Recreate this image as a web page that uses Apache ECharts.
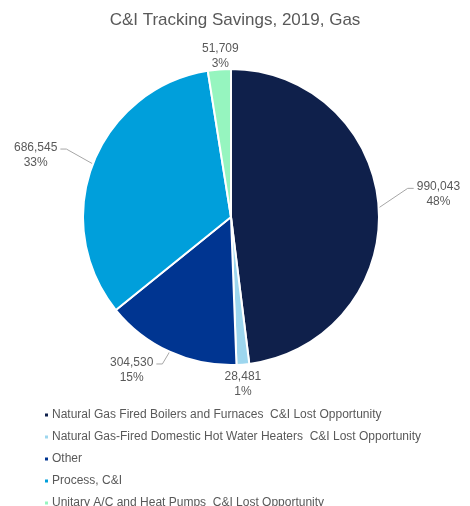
<!DOCTYPE html>
<html><head><meta charset="utf-8">
<script src="https://cdn.jsdelivr.net/npm/echarts@6/dist/echarts.min.js"></script>
<style>html,body{margin:0;padding:0;background:#fff}#c{width:470px;height:506px}</style>
</head><body><div id="c"></div>
<script>
const categories = [
  'Natural Gas Fired Boilers and Furnaces  C&I Lost Opportunity',
  'Natural Gas-Fired Domestic Hot Water Heaters  C&I Lost Opportunity',
  'Other',
  'Process, C&I',
  'Unitary A/C and Heat Pumps  C&I Lost Opportunity'
];
const values = [990043, 28481, 304530, 686545, 51709];
const colors = ['#0F204B', '#9DD6EE', '#003591', '#009FDB', '#96F5BF'];

// label nudges (dx, dy) relative to default outside placement
const labelShift = [[13, -13], [-36, 12], [4, 11], [-11, -6], [37, -5]];
const showLine = [true, false, true, true, false];

const chart = echarts.init(document.getElementById('c'));
chart.setOption({
  animation: false,
  title: {
    text: 'C&I Tracking Savings, 2019, Gas',
    left: 'center', top: 7,
    textStyle: { fontFamily: 'Liberation Sans, Arial', fontSize: 17, fontWeight: 'normal', color: '#595959' }
  },
  legend: {
    orient: 'vertical', left: 38, top: 404, height: 140,
    icon: 'rect', itemWidth: 5, itemHeight: 5, itemGap: 10,
    textStyle: { fontFamily: 'Liberation Sans, Arial', fontSize: 12, color: '#595959', padding: [0, 0, 0, -2] },
    data: categories
  },
  series: [{
    type: 'pie',
    center: [231, 217],
    radius: 148,
    startAngle: 90,
    percentPrecision: 0,
    itemStyle: { borderColor: '#fff', borderWidth: 2 },
    label: {
      show: true,
      position: 'outside',
      fontFamily: 'Liberation Sans, Arial', fontSize: 12, color: '#595959',
      lineHeight: 15,
      formatter: p => '{a|' + p.value.toLocaleString('en-US') + '}\n{a|' + p.percent + '%}',
      rich: { a: { align: 'center', fontFamily: 'Liberation Sans, Arial', fontSize: 12, color: '#595959', lineHeight: 15 } }
    },
    labelLine: { show: true, length: 8, length2: 12, lineStyle: { color: '#a6a6a6', width: 1 } },
    labelLayout: p => {
      const [dx, dy] = labelShift[p.dataIndex];
      const r = p.labelRect;
      const out = { dx, dy };
      const pts = p.labelLinePoints;
      if (pts && pts.length) {
        const start = pts[0];
        const left = r.x + dx, right = r.x + r.width + dx;
        const ay = r.y + dy + r.height * 0.3;
        const onRight = (left + right) / 2 > start[0];
        const ax = onRight ? left - 3 : right + 3;
        const ex = onRight ? ax - 6 : ax + 6;
        out.labelLinePoints = [start, [ex, ay], [ax, ay]];
      }
      return out;
    },
    data: categories.map((n, i) => ({
      name: n, value: values[i],
      itemStyle: { color: colors[i] },
      labelLine: { show: showLine[i] }
    }))
  }]
});
</script></body></html>
